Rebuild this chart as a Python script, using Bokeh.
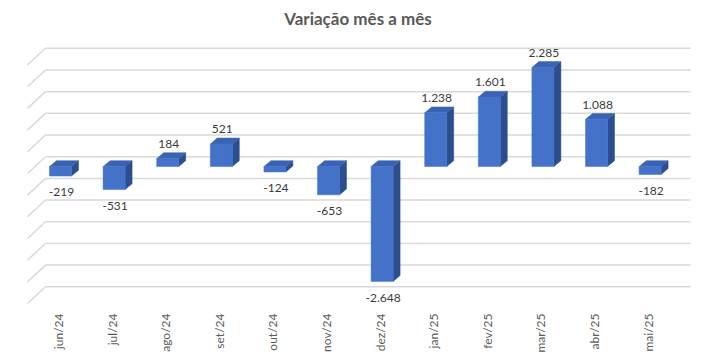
from math import pi
from bokeh.plotting import figure
from bokeh.models import Range1d, FixedTicker, ColumnDataSource
from bokeh.embed import file_html
from bokeh.resources import INLINE
from bokeh.core.properties import value

# ---- data ----
months = ["jun/24", "jul/24", "ago/24", "set/24", "out/24", "nov/24",
          "dez/24", "jan/25", "fev/25", "mar/25", "abr/25", "mai/25"]
variation = [-219, -531, 184, 521, -124, -653, -2648, 1238, 1601, 2285, 1088, -182]
grid_values = [-3000, -2500, -2000, -1500, -1000, -500, 0, 500, 1000, 1500, 2000, 2500]
title_text = "Variação mês a mês"

# ---- geometry (styling) ----
PX_X = 53.6     # pixels per category
PX_Y = 0.044    # pixels per unit of value
W, H = 715, 355
TOP, BOTTOM = 32, 46
FIRST_TICK_PX = 58
ZERO_PX = 167 - TOP  # front zero position inside frame

def ux(px):
    return px / PX_X

def uy(px):
    return px / PX_Y

frame_h = H - TOP - BOTTOM
y_top = ZERO_PX / PX_Y
y_bot = -(frame_h - ZERO_PX) / PX_Y

p = figure(width=W, height=H, output_backend="svg", toolbar_location=None,
           x_range=Range1d(-FIRST_TICK_PX / PX_X, (W - FIRST_TICK_PX) / PX_X),
           y_range=Range1d(y_bot, y_top),
           y_axis_location=None,
           min_border_left=0, min_border_right=0,
           min_border_top=TOP, min_border_bottom=BOTTOM,
           title=title_text)
p.outline_line_color = None
p.background_fill_color = "white"
p.border_fill_color = "white"
p.xgrid.visible = False
p.ygrid.visible = False

p.title.align = "center"
p.title.text_font = "Lato"
p.title.text_font_size = "17px"
p.title.text_font_style = "bold"
p.title.text_color = "#595959"
p.title.offset = 0
p.title.standoff = 10

# back wall grid lines
back_dy = uy(10)
wall_x0, wall_x1 = ux(45 - FIRST_TICK_PX), ux(690 - FIRST_TICK_PX)
gy = [g + back_dy for g in grid_values]
p.segment(x0=[wall_x0] * len(gy), x1=[wall_x1] * len(gy), y0=gy, y1=gy,
          line_color="#d9d9d9", line_width=1.5)
p.segment(x0=[wall_x0] * len(gy), x1=[wall_x0 - ux(18)] * len(gy), y0=gy,
          y1=[g - uy(17) for g in gy], line_color="#d9d9d9", line_width=1.5)

# bars
off = ux(2)
half = ux(11)
ddx, ddy = ux(7), uy(6)
n = len(variation)
lefts = [i + off - half for i in range(n)]
rights = [i + off + half for i in range(n)]
bots = [min(0, v) for v in variation]
tops = [max(0, v) for v in variation]

side_xs, side_ys, top_xs, top_ys = [], [], [], []
for l, r, b, t in zip(lefts, rights, bots, tops):
    side_xs.append([r, r, r + ddx, r + ddx])
    side_ys.append([b, t, t + ddy, b + ddy])
    top_xs.append([l, r, r + ddx, l + ddx])
    top_ys.append([t, t, t + ddy, t + ddy])

p.patches(side_xs, side_ys, fill_color="#2c4e8e", line_color="#2c4e8e", line_width=0.5)
p.patches(top_xs, top_ys, fill_color="#3a64b3", line_color="#3a64b3", line_width=0.5)
p.quad(left=lefts, right=rights, bottom=bots, top=tops,
       fill_color="#4472c8", line_color="#4472c8", line_width=0.5)

# data labels
lab_x = [i + ux(3) for i in range(n)]
lab_y = [v + uy(15) if v >= 0 else v - uy(16.5) for v in variation]
lab_t = [f"{v:,}".replace(",", ".") for v in variation]
src = ColumnDataSource(dict(x=lab_x, y=lab_y, t=lab_t))
p.text(x="x", y="y", text="t", source=src, text_font=value("Lato"),
       text_font_size="12px", text_color="#3a3a3a", text_align="center",
       text_baseline="middle")

# category axis
ax = p.xaxis[0]
ax.ticker = FixedTicker(ticks=list(range(n)))
ax.major_label_overrides = {i: m for i, m in enumerate(months)}
ax.major_label_orientation = pi / 2
ax.axis_line_color = None
ax.major_tick_line_color = None
ax.minor_tick_line_color = None
ax.major_label_standoff = 1
ax.major_label_text_font = "Lato"
ax.major_label_text_font_size = "12px"
ax.major_label_text_color = "#595959"

open("out.html", "w").write(file_html(p, INLINE))
